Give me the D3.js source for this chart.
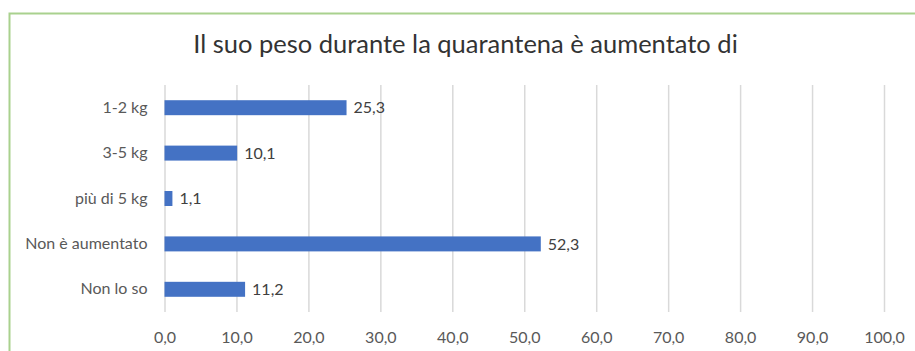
<!DOCTYPE html>
<html>
<head>
<meta charset="utf-8">
<script src="https://cdn.jsdelivr.net/npm/d3@7"></script>
<style>
  html, body { margin: 0; padding: 0; background: #ffffff; }
  svg { display: block; }
  text { font-family: Lato, "Open Sans", sans-serif; }
</style>
</head>
<body>
<svg id="chart" width="915" height="351"></svg>
<script>
const title = "Il suo peso durante la quarantena è aumentato di";
const categories = ["1-2 kg", "3-5 kg", "più di 5 kg", "Non è aumentato", "Non lo so"];
const values = [25.3, 10.1, 1.1, 52.3, 11.2];
const tickValues = [0, 10, 20, 30, 40, 50, 60, 70, 80, 90, 100];

const fmt = v => d3.format(".1f")(v).replace(".", ",");

const svg = d3.select("#chart");
const W = 915, H = 351;
const plot = { left: 164.5, right: 884, top: 85, bottom: 312 };

// chart frame (cropped at right and bottom)
svg.append("rect")
  .attr("x", 9.5).attr("y", 13.5)
  .attr("width", W + 20).attr("height", H + 20)
  .attr("fill", "#ffffff")
  .attr("stroke", "#a9d18e")
  .attr("stroke-width", 2);

const x = d3.scaleLinear().domain([0, 100]).range([plot.left, plot.right]);
const y = d3.scaleBand().domain(categories).range([plot.top, plot.bottom])
  .paddingInner(0.67).paddingOuter(0.335);

// title
svg.append("text")
  .attr("x", 465.5).attr("y", 53)
  .attr("text-anchor", "middle")
  .attr("font-size", 25.5)
  .attr("fill", "#333333")
  .text(title);

// gridlines via axis
const grid = svg.append("g")
  .attr("transform", `translate(0,${plot.bottom})`)
  .call(d3.axisBottom(x).tickValues(tickValues).tickSize(-(plot.bottom - plot.top)).tickFormat(""));
grid.select(".domain").remove();
grid.selectAll("line").attr("stroke", "#d9d9d9").attr("stroke-width", 1.5);

// x tick labels
const xAxis = svg.append("g")
  .attr("transform", `translate(0,${plot.bottom})`)
  .call(d3.axisBottom(x).tickValues(tickValues).tickSize(0).tickPadding(0).tickFormat(fmt));
xAxis.select(".domain").remove();
xAxis.selectAll("text")
  .attr("y", 0).attr("dy", 0)
  .attr("transform", "translate(0,31)")
  .attr("font-size", 16)
  .attr("font-family", "Lato, 'Open Sans', sans-serif")
  .attr("fill", "#595959");

// y category labels
const yAxis = svg.append("g")
  .attr("transform", `translate(${plot.left},0)`)
  .call(d3.axisLeft(y).tickSize(0).tickPadding(17));
yAxis.select(".domain").remove();
yAxis.selectAll("text")
  .attr("font-size", 16)
  .attr("font-family", "Lato, 'Open Sans', sans-serif")
  .attr("fill", "#595959");

// bars
svg.append("g").selectAll("rect")
  .data(categories)
  .join("rect")
  .attr("x", x(0))
  .attr("y", (d) => y(d))
  .attr("width", (d, i) => x(values[i]) - x(0))
  .attr("height", y.bandwidth())
  .attr("fill", "#4472c4");

// value labels
svg.append("g").selectAll("text")
  .data(categories)
  .join("text")
  .attr("x", (d, i) => x(values[i]) + 7)
  .attr("y", (d) => y(d) + y.bandwidth() / 2)
  .attr("dy", "0.36em")
  .attr("font-size", 16)
  .attr("fill", "#404040")
  .text((d, i) => fmt(values[i]));
</script>
</body>
</html>
